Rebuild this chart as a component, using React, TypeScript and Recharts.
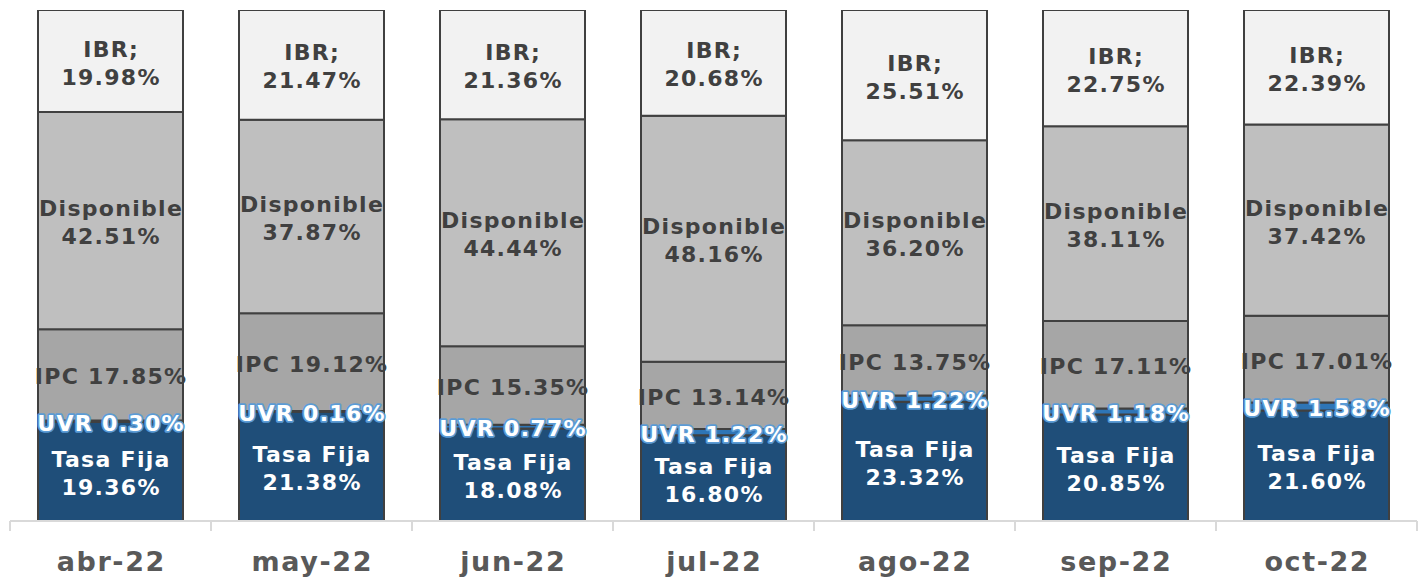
import React from 'react';
import { BarChart, Bar, XAxis, YAxis, LabelList } from 'recharts';

const months = ['abr-22', 'may-22', 'jun-22', 'jul-22', 'ago-22', 'sep-22', 'oct-22'];
const tasaFija = [19.36, 21.38, 18.08, 16.8, 23.32, 20.85, 21.6];
const uvr = [0.3, 0.16, 0.77, 1.22, 1.22, 1.18, 1.58];
const ipc = [17.85, 19.12, 15.35, 13.14, 13.75, 17.11, 17.01];
const disponible = [42.51, 37.87, 44.44, 48.16, 36.2, 38.11, 37.42];
const ibr = [19.98, 21.47, 21.36, 20.68, 25.51, 22.75, 22.39];

const data = months.map((m, i) => ({
  month: m,
  tasaFija: tasaFija[i],
  uvr: uvr[i],
  ipc: ipc[i],
  disponible: disponible[i],
  ibr: ibr[i],
}));

const FONT = "Verdana, 'DejaVu Sans', sans-serif";
const W = 1423;
const H = 578;
const ML = 10;
const MR = 6;
const BAND = (W - ML - MR) / months.length;

const fmt = (v: number) => v.toFixed(2) + '%';

type Kind = 'two' | 'one' | 'uvr';

const makeLabel = (kind: Kind, title: string, color: string) => (props: any) => {
  const x = Number(props.x);
  const y = Number(props.y);
  const w = Number(props.width);
  const h = Number(props.height);
  const v = Number(props.value);
  const cx = x + w / 2 + 0.6;
  const cy = y + h / 2;
  const base = {
    fontFamily: FONT,
    fontWeight: 700 as const,
    fontSize: 22,
    letterSpacing: 1.3,
    textAnchor: 'middle' as const,
    dominantBaseline: 'central' as const,
    fill: color,
  };
  if (kind === 'two') {
    return (
      <g>
        <text x={cx} y={cy - 12} {...base}>{title}</text>
        <text x={cx} y={cy + 16} {...base}>{fmt(v)}</text>
      </g>
    );
  }
  if (kind === 'uvr') {
    return (
      <text
        x={cx}
        y={cy + 2}
        {...base}
        stroke="#5B9BD5"
        strokeWidth={3.5}
        strokeLinejoin="round"
        style={{ paintOrder: 'stroke' }}
      >
        {title + ' ' + fmt(v)}
      </text>
    );
  }
  return (
    <text x={cx} y={cy + 2} {...base}>{title + ' ' + fmt(v)}</text>
  );
};

const Tick = (props: any) => {
  const { x, y, payload, index } = props;
  const half = BAND / 2;
  const ax = Number(x);
  const ay = Number(y);
  return (
    <g>
      <line x1={ax - half} x2={ax - half} y1={ay - 8} y2={ay + 2} stroke="#D9D9D9" strokeWidth={2} />
      {index === months.length - 1 && (
        <line x1={ax + half} x2={ax + half} y1={ay - 8} y2={ay + 2} stroke="#D9D9D9" strokeWidth={2} />
      )}
      <text
        x={ax + 0.8}
        y={ay + 32}
        textAnchor="middle"
        dominantBaseline="central"
        fontFamily={FONT}
        fontWeight={700}
        fontSize={27}
        letterSpacing={1.6}
        fill="#595959"
      >
        {payload.value}
      </text>
    </g>
  );
};

export default function App() {
  return (
    <div style={{ position: 'absolute', left: 0, top: 0, width: W, height: H, background: '#fff' }}>
      <BarChart
        width={W}
        height={H}
        data={data}
        margin={{ top: 10, right: MR, left: ML, bottom: 0 }}
        barCategoryGap={28}
      >
        <YAxis hide domain={[0, 100]} type="number" allowDataOverflow />
        <XAxis
          dataKey="month"
          height={57}
          axisLine={{ stroke: '#D9D9D9', strokeWidth: 2 }}
          tickLine={false}
          tick={<Tick />}
          interval={0}
        />
        <Bar dataKey="tasaFija" stackId="a" fill="#1F4E79" stroke="#404040" strokeWidth={2} isAnimationActive={false}>
          <LabelList dataKey="tasaFija" content={makeLabel('two', 'Tasa Fija', '#FFFFFF')} />
        </Bar>
        <Bar dataKey="uvr" stackId="a" fill="#2E75B6" stroke="#404040" strokeWidth={2} isAnimationActive={false}>
          <LabelList dataKey="uvr" content={makeLabel('uvr', 'UVR', '#FFFFFF')} />
        </Bar>
        <Bar dataKey="ipc" stackId="a" fill="#A6A6A6" stroke="#404040" strokeWidth={2} isAnimationActive={false}>
          <LabelList dataKey="ipc" content={makeLabel('one', 'IPC', '#404040')} />
        </Bar>
        <Bar dataKey="disponible" stackId="a" fill="#BFBFBF" stroke="#404040" strokeWidth={2} isAnimationActive={false}>
          <LabelList dataKey="disponible" content={makeLabel('two', 'Disponible', '#404040')} />
        </Bar>
        <Bar dataKey="ibr" stackId="a" fill="#F2F2F2" stroke="#404040" strokeWidth={2} isAnimationActive={false}>
          <LabelList dataKey="ibr" content={makeLabel('two', 'IBR;', '#404040')} />
        </Bar>
      </BarChart>
    </div>
  );
}
